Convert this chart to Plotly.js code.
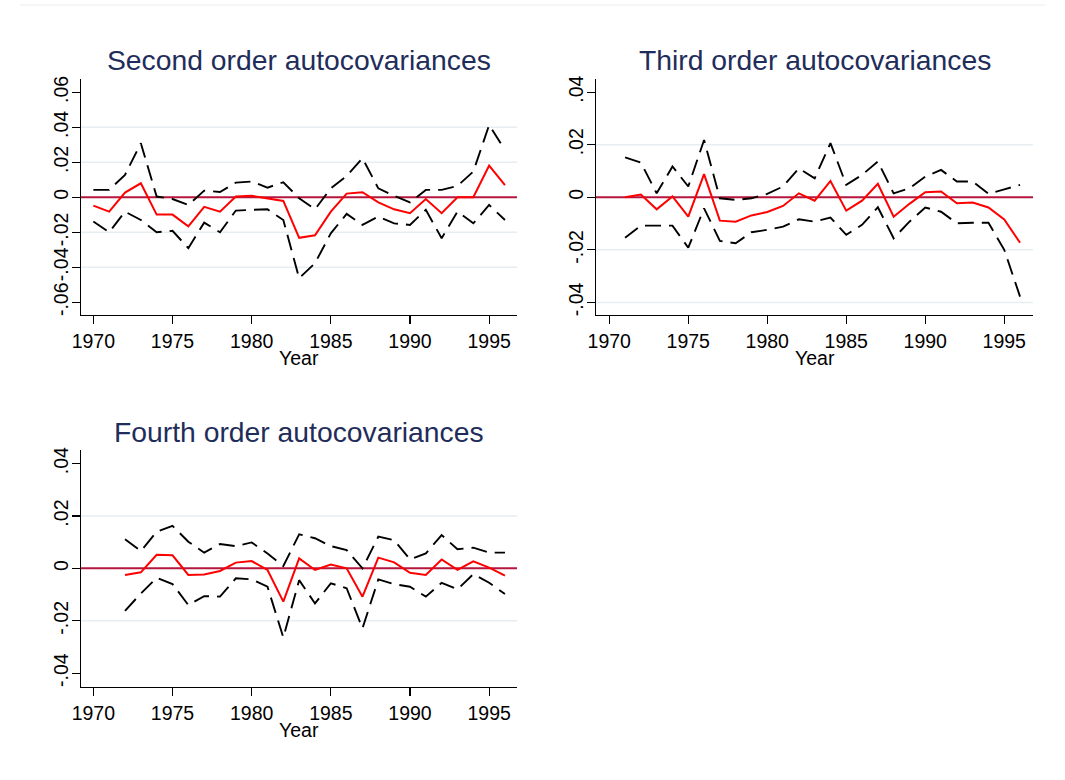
<!DOCTYPE html>
<html>
<head>
<meta charset="utf-8">
<script src="https://cdn.plot.ly/plotly-3.0.1.min.js"></script>
<style>html,body{margin:0;padding:0;background:#fff;}#chart{width:1065px;height:780px;}</style>
</head>
<body>
<div id="chart"></div>
<script>
// ---- data ----
var years2 = [1970,1971,1972,1973,1974,1975,1976,1977,1978,1979,1980,1981,1982,1983,1984,1985,1986,1987,1988,1989,1990,1991,1992,1993,1994,1995,1996];
var est2 = [-0.0048,-0.0082,0.0027,0.0080,-0.0099,-0.0099,-0.0166,-0.0055,-0.0082,0.0004,0.0008,-0.0005,-0.0021,-0.0232,-0.0217,-0.0082,0.0021,0.0029,-0.0029,-0.0069,-0.0091,-0.0010,-0.0091,0.0000,0.0000,0.0181,0.0070];
var hi2 = [0.0042,0.0042,0.0128,0.0309,0.0004,-0.0010,-0.0044,0.0038,0.0030,0.0084,0.0090,0.0055,0.0086,-0.0006,-0.0069,0.0051,0.0122,0.0223,0.0051,0.0008,-0.0029,0.0042,0.0042,0.0065,0.0147,0.0413,0.0270];
var lo2 = [-0.0139,-0.0200,-0.0082,-0.0130,-0.0200,-0.0192,-0.0291,-0.0145,-0.0200,-0.0076,-0.0072,-0.0069,-0.0130,-0.0463,-0.0377,-0.0206,-0.0095,-0.0158,-0.0110,-0.0149,-0.0158,-0.0072,-0.0234,-0.0082,-0.0149,-0.0044,-0.0130];

var years3 = [1971,1972,1973,1974,1975,1976,1977,1978,1979,1980,1981,1982,1983,1984,1985,1986,1987,1988,1989,1990,1991,1992,1993,1994,1995,1996];
var est3 = [0.0000,0.0010,-0.0046,0.0003,-0.0074,0.0088,-0.0089,-0.0093,-0.0069,-0.0056,-0.0033,0.0015,-0.0013,0.0062,-0.0051,-0.0013,0.0051,-0.0074,-0.0025,0.0019,0.0022,-0.0023,-0.0020,-0.0039,-0.0084,-0.0173];
var hi3 = [0.0152,0.0132,0.0015,0.0117,0.0041,0.0218,-0.0004,-0.0010,-0.0004,0.0013,0.0041,0.0110,0.0072,0.0206,0.0047,0.0085,0.0136,0.0015,0.0034,0.0079,0.0104,0.0060,0.0060,0.0013,0.0030,0.0047];
var lo3 = [-0.0154,-0.0108,-0.0108,-0.0108,-0.0192,-0.0042,-0.0166,-0.0175,-0.0133,-0.0124,-0.0112,-0.0084,-0.0093,-0.0077,-0.0143,-0.0105,-0.0038,-0.0156,-0.0093,-0.0039,-0.0055,-0.0099,-0.0097,-0.0097,-0.0200,-0.0378];

var years4 = [1972,1973,1974,1975,1976,1977,1978,1979,1980,1981,1982,1983,1984,1985,1986,1987,1988,1989,1990,1991,1992,1993,1994,1995,1996];
var est4 = [-0.0025,-0.0015,0.0052,0.0050,-0.0025,-0.0023,-0.0010,0.0022,0.0028,-0.0006,-0.0127,0.0038,-0.0006,0.0015,0.0000,-0.0108,0.0041,0.0023,-0.0017,-0.0025,0.0034,-0.0006,0.0027,0.0003,-0.0028];
var hi4 = [0.0111,0.0066,0.0140,0.0162,0.0102,0.0060,0.0093,0.0085,0.0099,0.0057,0.0009,0.0130,0.0115,0.0085,0.0070,0.0000,0.0121,0.0108,0.0034,0.0057,0.0127,0.0073,0.0079,0.0060,0.0060];
var lo4 = [-0.0162,-0.0096,-0.0036,-0.0060,-0.0140,-0.0106,-0.0108,-0.0038,-0.0042,-0.0070,-0.0264,-0.0045,-0.0134,-0.0057,-0.0076,-0.0229,-0.0042,-0.0060,-0.0070,-0.0108,-0.0055,-0.0080,-0.0022,-0.0055,-0.0098];

var titles = ["Second order autocovariances", "Third order autocovariances", "Fourth order autocovariances"];
var xTitle = "Year";
var xTicks = [1970,1975,1980,1985,1990,1995];
var yTicks2 = [-0.06,-0.04,-0.02,0,0.02,0.04,0.06];
var yText2 = ["-.06","-.04","-.02","0",".02",".04",".06"];
var yTicks34 = [-0.04,-0.02,0,0.02,0.04];
var yText34 = ["-.04","-.02","0",".02",".04"];
var grid2 = [-0.04,-0.02,0.02,0.04];
var grid3 = [-0.04,-0.02,0.02];
var grid4 = [-0.02,0.02];

// ---- styling ----
var FONT = "'Liberation Sans', Arial, sans-serif";
var redLine = {color:"#ff0000", width:2};
var dashLine = {color:"#000000", width:1.9, dash:"16px,8px"};

function traces(x, est, hi, lo, xa, ya){
  return [
    {x:x, y:hi, xaxis:xa, yaxis:ya, mode:"lines", line:dashLine, showlegend:false, hoverinfo:"skip"},
    {x:x, y:lo, xaxis:xa, yaxis:ya, mode:"lines", line:dashLine, showlegend:false, hoverinfo:"skip"},
    {x:x, y:est, xaxis:xa, yaxis:ya, mode:"lines", line:redLine, showlegend:false, hoverinfo:"skip"}
  ];
}
var data = [].concat(
  traces(years2, est2, hi2, lo2, "x", "y"),
  traces(years3, est3, hi3, lo3, "x2", "y2"),
  traces(years4, est4, hi4, lo4, "x3", "y3")
);

function xaxis(domain, range, anchor){
  return {domain:domain, range:range, anchor:anchor, tickvals:xTicks, ticks:"outside", ticklen:8, tickwidth:1.2,
    tickcolor:"#000", showline:true, linecolor:"#000", linewidth:1.2, showgrid:false, zeroline:false,
    tickfont:{family:FONT, size:19.5, color:"#000"}};
}
function yaxis(domain, range, anchor, tv, tt){
  return {domain:domain, range:range, anchor:anchor, tickvals:tv, ticktext:tt, ticks:"outside", ticklen:8, tickwidth:1.2,
    tickcolor:"#000", showline:true, linecolor:"#000", linewidth:1.2, showgrid:false, zeroline:false,
    tickangle:-90, ticklabelstandoff:-4, tickfont:{family:FONT, size:19.5, color:"#000"}};
}

function axName(a){ return a === "x" ? "xaxis" : "xaxis" + a.slice(1); }

var W = 1065, H = 780;
var d1x = [81/W, 517/W], d2x = [596/W, 1033/W];
var dTop = [1-315/H, 1-79/H], dBot = [1-687/H, 1-450/H];

function ann(text, xa, y){
  return {text:text, xref:xa+" domain", yref:"paper", x:0.5, y:y, xanchor:"center", yanchor:"middle",
    showarrow:false, font:{family:FONT, size:28.3, color:"#1f2d5a"}};
}
function xlab(xa, y){
  return {text:xTitle, xref:xa+" domain", yref:"paper", x:0.5, y:y, xanchor:"center", yanchor:"middle",
    showarrow:false, font:{family:FONT, size:19.5, color:"#000"}};
}

var layout = {
  width:W, height:H, margin:{l:0,r:0,t:0,b:0},
  paper_bgcolor:"#fff", plot_bgcolor:"#fff", showlegend:false,
  xaxis: xaxis(d1x, [1969.22, 1996.76], "y"),
  yaxis: yaxis(dTop, [-0.0673, 0.0676], "x", yTicks2, yText2),
  xaxis2: xaxis(d2x, [1969.16, 1996.82], "y2"),
  yaxis2: yaxis(dTop, [-0.0448, 0.0450], "x2", yTicks34, yText34),
  xaxis3: xaxis(d1x, [1969.22, 1996.76], "y3"),
  yaxis3: yaxis(dBot, [-0.0453, 0.0452], "x3", yTicks34, yText34),
  annotations:[
    ann(titles[0], "x", 1-60/H),
    ann(titles[1], "x2", 1-60/H),
    ann(titles[2], "x3", 1-432/H),
    xlab("x", 1-358/H),
    xlab("x2", 1-358/H),
    xlab("x3", 1-730/H)
  ]
};

var shapes = [
  {type:"line", xref:"paper", yref:"paper", x0:20/W, x1:1045/W, y0:1-5/H, y1:1-5/H, line:{color:"#ececec", width:1}}
];
function grids(vals, xa, ya){
  var r = layout[axName(xa)].range;
  vals.forEach(function(v){
    shapes.push({type:"line", layer:"below", xref:xa, yref:ya, x0:r[0], x1:r[1], y0:v, y1:v,
      line:{color:"#e6eef1", width:1.5}});
  });
  shapes.push({type:"line", layer:"below", xref:xa, yref:ya, x0:r[0], x1:r[1], y0:0, y1:0,
    line:{color:"#b5163f", width:2}});
}
grids(grid2, "x", "y");
grids(grid3, "x2", "y2");
grids(grid4, "x3", "y3");
layout.shapes = shapes;

Plotly.newPlot("chart", data, layout, {staticPlot:true, displayModeBar:false});
</script>
</body>
</html>
